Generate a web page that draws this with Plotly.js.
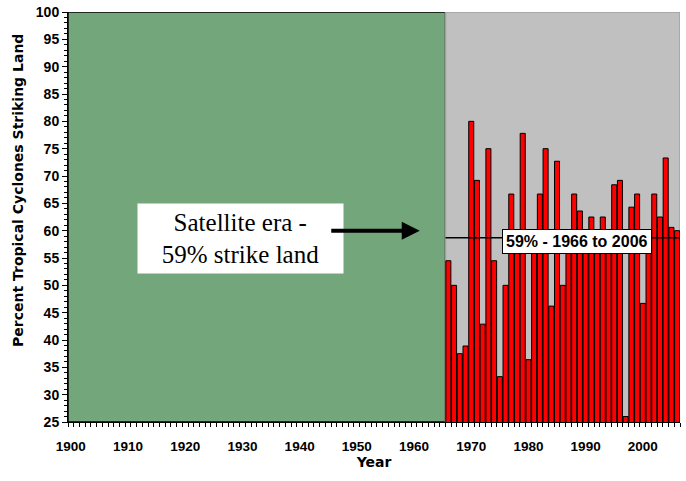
<!DOCTYPE html>
<html>
<head>
<meta charset="utf-8">
<script src="https://cdn.plot.ly/plotly-3.0.1.min.js"></script>
<style>html,body{margin:0;padding:0;background:#fff;}#chart{width:686px;height:481px;}</style>
</head>
<body>
<div id="chart"></div>
<script>
// ---- data ----
const years = [1966,1967,1968,1969,1970,1971,1972,1973,1974,1975,1976,1977,1978,1979,1980,1981,1982,1983,1984,1985,1986,1987,1988,1989,1990,1991,1992,1993,1994,1995,1996,1997,1998,1999,2000,2001,2002,2003,2004,2005,2006];
const pctLand = [54.5,50,37.5,38.9,80,69.2,42.9,75,54.5,33.3,50,66.7,59.5,77.8,36.4,58.3,66.7,75,46.2,72.7,50,57.1,66.7,63.6,59.5,62.5,58.8,62.5,59.5,68.4,69.2,26,64.3,66.7,46.7,59.5,66.7,62.5,73.3,60.6,60];
const decadeTicks = [1900,1910,1920,1930,1940,1950,1960,1970,1980,1990,2000];
const decadeLabels = ["1900","1910","1920","1930","1940","1950","1960","1970","1980","1990","2000"];
const yearRange = [1899.5, 2006.5];
const satelliteStart = 1965.5;
const meanPct = 58.7;
const meanLabel = "59% - 1966 to 2006";
const eraLabel = "Satellite era -<br>59% strike land";
const yTitle = "Percent Tropical Cyclones Striking Land";
const xTitle = "Year";

const trace = {
  type: "bar",
  x: years,
  y: pctLand,
  marker: {color: "#FF0000", line: {color: "#000", width: 1}},
  hoverinfo: "x+y"
};

const layout = {
  width: 686, height: 481,
  margin: {l: 68, r: 6, t: 12, b: 59},
  paper_bgcolor: "#fff",
  plot_bgcolor: "rgba(0,0,0,0)",
  showlegend: false,
  bargap: 0.12,
  xaxis: {
    range: yearRange,
    tickmode: "array", tickvals: decadeTicks, ticktext: decadeLabels,
    ticks: "", ticklabelstandoff: 12,
    tickfont: {family: "Liberation Sans", size: 13.5, color: "#000", weight: "bold"},
    showline: true, linecolor: "#000", linewidth: 1,
    showgrid: false, zeroline: false,
    minor: {tickmode: "linear", tick0: 1899.5, dtick: 1, ticks: "outside", ticklen: 4, tickcolor: "#000", showgrid: false},
    title: {text: xTitle, font: {family: "DejaVu Sans", size: 14, color: "#000", weight: "bold"}, standoff: 2}
  },
  yaxis: {
    range: [25, 100], tick0: 0, dtick: 5,
    ticks: "outside", ticklen: 5, tickcolor: "#000",
    tickfont: {family: "Liberation Sans", size: 14, color: "#000", weight: "bold"},
    showline: true, linecolor: "#000", linewidth: 1,
    showgrid: false, zeroline: false,
    minor: {dtick: 1, ticks: "outside", ticklen: 3, tickcolor: "#000", showgrid: false}
  },
  shapes: [
    {type: "rect", xref: "x", yref: "y", x0: yearRange[0], x1: satelliteStart, y0: 25, y1: 100,
     fillcolor: "#73A67A", line: {color: "#000", width: 1.5}, layer: "below"},
    {type: "rect", xref: "x", yref: "y", x0: satelliteStart, x1: yearRange[1], y0: 25, y1: 100,
     fillcolor: "#C0C0C0", line: {color: "#A0A0A0", width: 1.5}, layer: "below"},
    {type: "line", xref: "x", yref: "y", x0: satelliteStart, x1: yearRange[1], y0: meanPct, y1: meanPct,
     line: {color: "#000", width: 1.5}, layer: "above"}
  ],
  annotations: [
    {xref: "x", yref: "y", x: 1929.66, y: 58.57, text: eraLabel, showarrow: false,
     font: {family: "Liberation Serif", size: 25, color: "#000"}, bgcolor: "#fff",
     width: 201, height: 65, borderpad: 2, align: "center"},
    {xref: "x", yref: "y", x: 1961.0, y: 60, ax: -90, ay: 0, text: "", showarrow: true,
     arrowhead: 2, arrowwidth: 4, arrowsize: 0.9, arrowcolor: "#000"},
    {xref: "x", yref: "y", x: 1988.5, y: 58.1, text: meanLabel, showarrow: false,
     font: {family: "Liberation Sans", size: 16, color: "#000", weight: "bold"},
     bgcolor: "#fff", bordercolor: "#000", borderwidth: 1, borderpad: 3},
    {xref: "paper", yref: "paper", x: -0.0817, y: 0.5659, xanchor: "center", yanchor: "middle",
     text: yTitle, showarrow: false, textangle: -90,
     font: {family: "DejaVu Sans", size: 14, color: "#000", weight: "bold"}}
  ]
};

Plotly.newPlot("chart", [trace], layout, {displayModeBar: false, staticPlot: true});
</script>
</body>
</html>
